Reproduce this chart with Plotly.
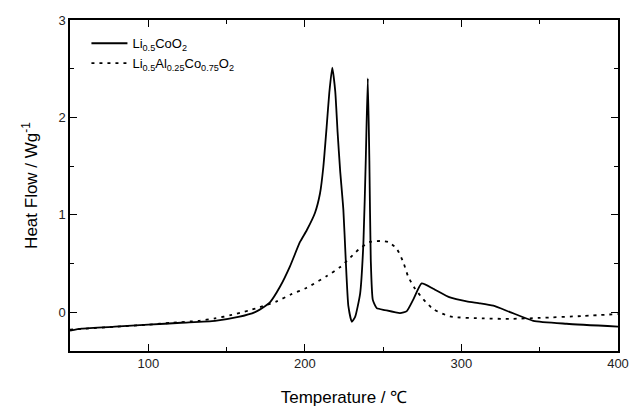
import plotly.graph_objects as go

# Li0.5CoO2 (solid)
t_a = [50, 57.5, 78.7, 100, 121, 142.6, 157.5, 168.2, 174.5, 177.7, 184.1, 190.5, 196.9, 201.2,
       206.5, 209.7, 211.8, 213.9, 215.6, 217.5, 219.4, 220.9, 222.5, 224.6, 226.1, 227.8, 230.0,
       232.1, 235.3, 237.4, 238.9, 240.2, 241.2, 242.1, 243.4, 245.9, 251.2, 260.8, 265.1,
       269.3, 274.6, 282, 292.7, 303.4, 312, 320.4, 331, 345.9, 367.2, 400]
h_a = [-0.19, -0.17, -0.15, -0.13, -0.11, -0.09, -0.05, 0.0, 0.06, 0.10, 0.26, 0.47, 0.72, 0.84,
       1.02, 1.22, 1.49, 1.90, 2.25, 2.51, 2.27, 1.85, 1.46, 1.05, 0.54, 0.06, -0.10,
       -0.05, 0.19, 0.71, 1.56, 2.40, 1.56, 0.54, 0.125, 0.04, 0.02, -0.01, 0.01,
       0.13, 0.295, 0.24, 0.15, 0.11, 0.09, 0.065, 0.0, -0.09, -0.12, -0.15]

# Li0.5Al0.25Co0.75O2 (dotted)
t_b = [50, 60, 80, 100, 115, 132, 142.6, 153.3, 163.9, 171.3, 182, 191, 201.2, 214, 222.4, 227.8,
       234.2, 241.6, 248, 253.3, 258.7, 262.9, 266.1, 270.4, 275.7, 282, 292.7, 314, 331, 350,
       378, 400]
h_b = [-0.18, -0.17, -0.15, -0.13, -0.11, -0.09, -0.065, -0.03, 0.015, 0.05, 0.11, 0.18, 0.25,
       0.37, 0.46, 0.54, 0.64, 0.72, 0.73, 0.72, 0.65, 0.51, 0.36, 0.24, 0.13, 0.03, -0.045,
       -0.065, -0.07, -0.06, -0.04, -0.02]

x_ticks = [100, 200, 300, 400]
y_ticks = [0, 1, 2, 3]

FONT = "Liberation Sans, Arial, sans-serif"

fig = go.Figure()
fig.add_trace(go.Scatter(x=t_a, y=h_a, mode="lines",
                         name="Li<sub>0.5</sub>CoO<sub>2</sub>",
                         line=dict(color="black", width=1.8, shape="spline", smoothing=0.5)))
fig.add_trace(go.Scatter(x=t_b, y=h_b, mode="lines",
                         name="Li<sub>0.5</sub>Al<sub>0.25</sub>Co<sub>0.75</sub>O<sub>2</sub>",
                         line=dict(color="black", width=1.8, dash="3px,5px", shape="spline", smoothing=0.6)))

axis_common = dict(showline=True, linecolor="black", linewidth=1.5, mirror="ticks",
                   ticks="inside", ticklen=7, tickwidth=1.2, tickcolor="black",
                   showgrid=False, zeroline=False, automargin=False,
                   tickfont=dict(family=FONT, size=13, color="#222"))

fig.update_xaxes(range=[50, 400], tickvals=x_ticks,
                 minor=dict(dtick=50, ticks="inside", ticklen=4, tickcolor="black", tickwidth=1),
                 title=dict(text="Temperature / ℃", font=dict(family=FONT, size=17, color="black"),
                            standoff=21),
                 **axis_common)
fig.update_yaxes(range=[-0.4, 3.0], tickvals=y_ticks,
                 minor=dict(dtick=0.5, ticks="inside", ticklen=4, tickcolor="black", tickwidth=1),
                 title=dict(text="Heat Flow / Wg<sup>-1</sup>", font=dict(family=FONT, size=17, color="black"),
                            standoff=16),
                 **axis_common)

fig.update_layout(
    width=632, height=403,
    margin=dict(l=62, r=22, t=12, b=60),
    paper_bgcolor="white", plot_bgcolor="white",
    font=dict(family=FONT, color="black"),
    legend=dict(x=0.03, y=0.975, xanchor="left", yanchor="top",
                bgcolor="rgba(0,0,0,0)", font=dict(family=FONT, size=13, color="black"),
                tracegroupgap=0, itemwidth=36),
)

fig.write_html("out.html")
